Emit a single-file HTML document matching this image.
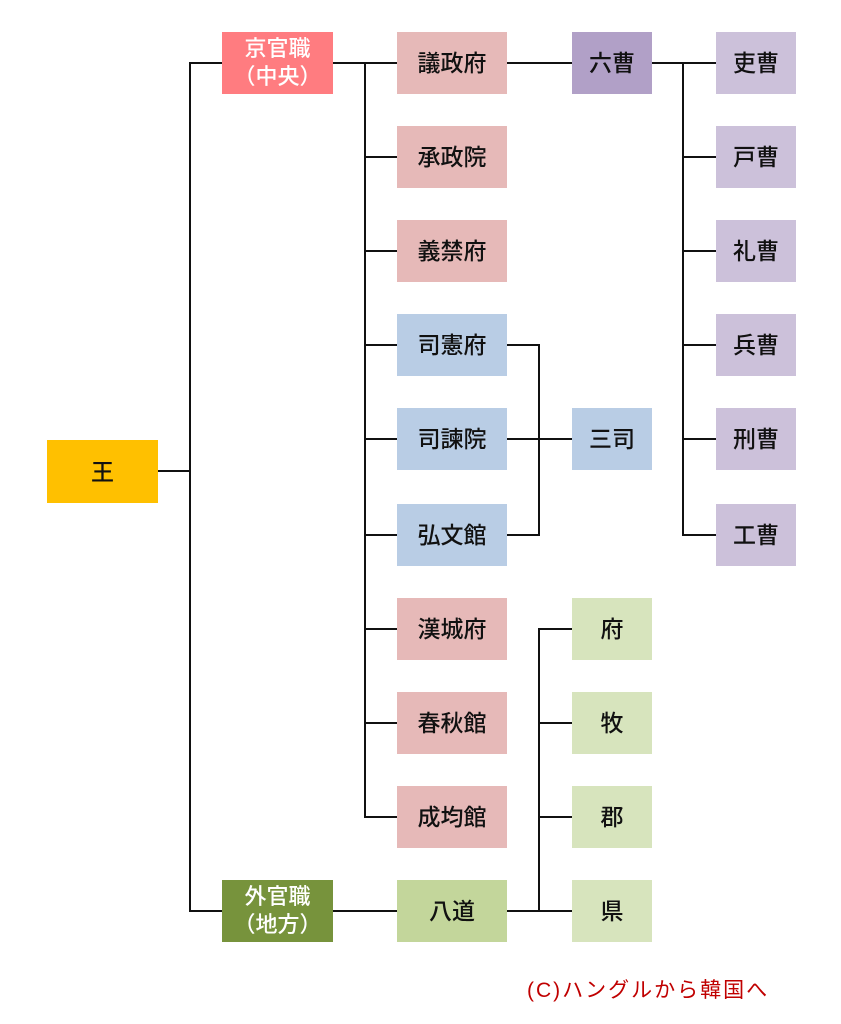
<!DOCTYPE html>
<html><head><meta charset="utf-8"><style>
body{margin:0;width:841px;height:1024px;background:#fff;position:relative;overflow:hidden;font-family:"Liberation Sans","Noto Sans CJK JP",sans-serif}
.b{position:absolute;display:flex;align-items:center;justify-content:center;text-align:center;font-size:23px;color:#111;line-height:28px;font-weight:500}
.h{position:absolute;height:2px;background:#111}
.v{position:absolute;width:2px;background:#111}
.p{background:#E6B9B8}.bl{background:#B9CDE5}.pu{background:#CCC1DA}.g{background:#D7E4BD}
</style></head><body>
<div class="h" style="left:158px;top:470px;width:33px"></div>
<div class="v" style="left:189px;top:62px;height:850px"></div>
<div class="h" style="left:189px;top:62px;width:33px"></div>
<div class="h" style="left:189px;top:910px;width:33px"></div>
<div class="h" style="left:333px;top:62px;width:64px"></div>
<div class="v" style="left:364px;top:62px;height:756px"></div>
<div class="h" style="left:364px;top:156px;width:33px"></div>
<div class="h" style="left:364px;top:250px;width:33px"></div>
<div class="h" style="left:364px;top:344px;width:33px"></div>
<div class="h" style="left:364px;top:438px;width:33px"></div>
<div class="h" style="left:364px;top:534px;width:33px"></div>
<div class="h" style="left:364px;top:628px;width:33px"></div>
<div class="h" style="left:364px;top:722px;width:33px"></div>
<div class="h" style="left:364px;top:816px;width:33px"></div>
<div class="h" style="left:507px;top:62px;width:65px"></div>
<div class="h" style="left:507px;top:344px;width:33px"></div>
<div class="h" style="left:507px;top:438px;width:65px"></div>
<div class="h" style="left:507px;top:534px;width:33px"></div>
<div class="v" style="left:538px;top:344px;height:192px"></div>
<div class="h" style="left:333px;top:910px;width:64px"></div>
<div class="h" style="left:507px;top:910px;width:65px"></div>
<div class="v" style="left:538px;top:628px;height:284px"></div>
<div class="h" style="left:538px;top:628px;width:34px"></div>
<div class="h" style="left:538px;top:722px;width:34px"></div>
<div class="h" style="left:538px;top:816px;width:34px"></div>
<div class="h" style="left:652px;top:62px;width:64px"></div>
<div class="v" style="left:682px;top:62px;height:474px"></div>
<div class="h" style="left:682px;top:156px;width:34px"></div>
<div class="h" style="left:682px;top:250px;width:34px"></div>
<div class="h" style="left:682px;top:344px;width:34px"></div>
<div class="h" style="left:682px;top:438px;width:34px"></div>
<div class="h" style="left:682px;top:534px;width:34px"></div>

<div class="b" style="left:47px;top:440px;width:111px;height:63px;background:#FFC000">王</div>
<div class="b" style="left:222px;top:32px;width:111px;height:62px;background:#FF7C80;color:#fff;font-size:22px">京官職<br>（中央）</div>
<div class="b" style="left:222px;top:880px;width:111px;height:62px;background:#77933C;color:#fff;font-size:22px">外官職<br>（地方）</div>

<div class="b p" style="left:397px;top:32px;width:110px;height:62px">議政府</div>
<div class="b p" style="left:397px;top:126px;width:110px;height:62px">承政院</div>
<div class="b p" style="left:397px;top:220px;width:110px;height:62px">義禁府</div>
<div class="b bl" style="left:397px;top:314px;width:110px;height:62px">司憲府</div>
<div class="b bl" style="left:397px;top:408px;width:110px;height:62px">司諫院</div>
<div class="b bl" style="left:397px;top:504px;width:110px;height:62px">弘文館</div>
<div class="b p" style="left:397px;top:598px;width:110px;height:62px">漢城府</div>
<div class="b p" style="left:397px;top:692px;width:110px;height:62px">春秋館</div>
<div class="b p" style="left:397px;top:786px;width:110px;height:62px">成均館</div>
<div class="b" style="left:397px;top:880px;width:110px;height:62px;background:#C3D69B">八道</div>

<div class="b" style="left:572px;top:32px;width:80px;height:62px;background:#B1A0C7">六曹</div>
<div class="b bl" style="left:572px;top:408px;width:80px;height:62px">三司</div>
<div class="b g" style="left:572px;top:598px;width:80px;height:62px">府</div>
<div class="b g" style="left:572px;top:692px;width:80px;height:62px">牧</div>
<div class="b g" style="left:572px;top:786px;width:80px;height:62px">郡</div>
<div class="b g" style="left:572px;top:880px;width:80px;height:62px">県</div>

<div class="b pu" style="left:716px;top:32px;width:80px;height:62px">吏曹</div>
<div class="b pu" style="left:716px;top:126px;width:80px;height:62px">戸曹</div>
<div class="b pu" style="left:716px;top:220px;width:80px;height:62px">礼曹</div>
<div class="b pu" style="left:716px;top:314px;width:80px;height:62px">兵曹</div>
<div class="b pu" style="left:716px;top:408px;width:80px;height:62px">刑曹</div>
<div class="b pu" style="left:716px;top:504px;width:80px;height:62px">工曹</div>

<div style="position:absolute;left:527px;top:974px;font-size:21px;letter-spacing:2px;color:#C00000;white-space:nowrap">(C)ハングルから韓国へ</div>
</body></html>
